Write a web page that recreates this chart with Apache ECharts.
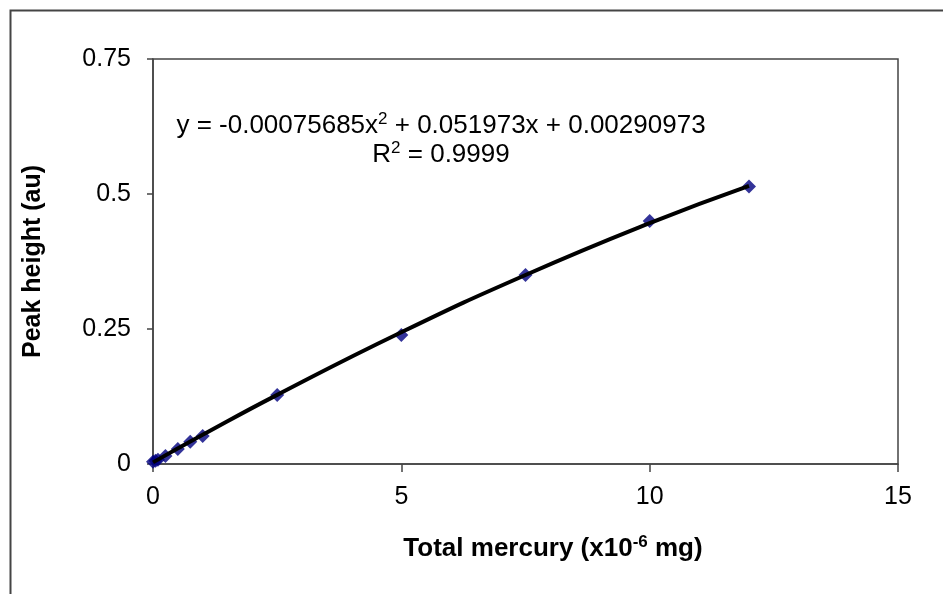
<html>
<head>
<meta charset="UTF-8">
<script src="https://cdn.jsdelivr.net/npm/echarts@6/dist/echarts.min.js"></script>
</head>
<body style="margin:0">
<div id="chart" style="width:943px;height:594px"></div>
<script>
// measured points (x in 1e-6 mg, y peak height)
var pointX = [0, 0.05, 0.1, 0.25, 0.5, 0.75, 1, 2.5, 5, 7.5, 10, 12];
var pointY = [0.004, 0.006, 0.008, 0.015, 0.028, 0.041, 0.052, 0.128, 0.239, 0.35, 0.45, 0.514];
// trendline
var trendX = [0, 1, 2.5, 5, 7.5, 10, 12];
var trendY = [0.003, 0.054, 0.128, 0.244, 0.35, 0.446, 0.515];
var xTicks = [0, 5, 10, 15];
var yTicks = [0, 0.25, 0.5, 0.75];

var font = '"Liberation Sans", Arial, sans-serif';
var chart = echarts.init(document.getElementById('chart'));

function pairs(xs, ys) {
  var out = [];
  for (var i = 0; i < xs.length; i++) out.push([xs[i], ys[i]]);
  return out;
}

var supText = {
  n: {fontFamily: font, fontSize: 26, fill: '#000', lineHeight: 30},
  s: {fontFamily: font, fontSize: 17, fill: '#000', lineHeight: 30, verticalAlign: 'top'}
};

var option = {
  backgroundColor: '#fff',
  animation: false,
  grid: {left: 153, right: 45, top: 59, bottom: 130, show: true, borderColor: '#444', borderWidth: 1.5},
  xAxis: {
    type: 'value', min: 0, max: 15, interval: 5,
    axisLine: {lineStyle: {color: '#444', width: 1.5}},
    axisTick: {inside: false, length: 8, lineStyle: {color: '#444', width: 1.5}},
    axisLabel: {fontFamily: font, fontSize: 25, color: '#000', margin: 21,
      formatter: function (v) { return xTicks.indexOf(v) >= 0 ? String(v) : ''; }},
    splitLine: {show: false}
  },
  yAxis: {
    type: 'value', min: 0, max: 0.75, interval: 0.25,
    name: 'Peak height (au)', nameLocation: 'middle', nameGap: 107,
    nameTextStyle: {fontFamily: font, fontSize: 25, fontWeight: 'bold', color: '#000'},
    axisLine: {show: true, lineStyle: {color: '#444', width: 1.5}},
    axisTick: {show: true, inside: false, length: 6, lineStyle: {color: '#444', width: 1.5}},
    axisLabel: {fontFamily: font, fontSize: 25, color: '#000', margin: 22,
      formatter: function (v) { return yTicks.indexOf(v) >= 0 ? String(v) : ''; }},
    splitLine: {show: false}
  },
  series: [
    {
      type: 'scatter', symbol: 'diamond', symbolSize: 14,
      itemStyle: {color: '#000080'},
      data: pairs(pointX, pointY), z: 2
    },
    {
      type: 'line', smooth: true, showSymbol: false,
      lineStyle: {color: '#000', width: 4},
      data: pairs(trendX, trendY), z: 3
    }
  ],
  graphic: [
    {type: 'rect', left: 8, top: 8, shape: {width: 1000, height: 1000},
      style: {fill: 'none', stroke: '#444', lineWidth: 2}, silent: true},
    {type: 'text', x: 441, y: 126,
      style: {
        text: '{n|y = -0.00075685x}{s|2}{n| + 0.051973x + 0.00290973}',
        align: 'center', verticalAlign: 'middle', rich: supText
      }},
    {type: 'text', x: 441, y: 155,
      style: {
        text: '{n|R}{s|2}{n| = 0.9999}',
        align: 'center', verticalAlign: 'middle', rich: supText
      }},
    {type: 'text', x: 553, y: 549,
      style: {
        text: '{b|Total mercury (x10}{s|-6}{b| mg)}',
        align: 'center', verticalAlign: 'middle',
        rich: {
          b: {fontFamily: font, fontSize: 26, fontWeight: 'bold', fill: '#000', lineHeight: 30},
          s: {fontFamily: font, fontSize: 17, fontWeight: 'bold', fill: '#000', lineHeight: 30, verticalAlign: 'top'}
        }
      }}
  ]
};
chart.setOption(option);
</script>
</body>
</html>
